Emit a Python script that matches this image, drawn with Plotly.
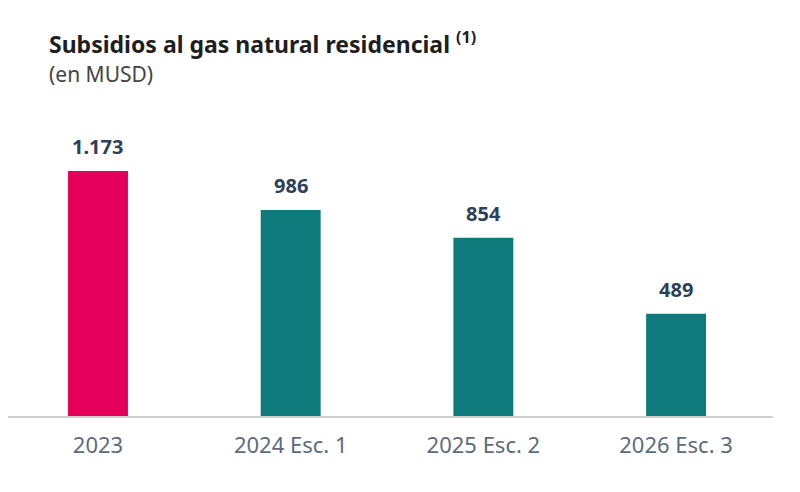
import plotly.graph_objects as go

categories = ["2023", "2024 Esc. 1", "2025 Esc. 2", "2026 Esc. 3"]
values = [1173, 986, 854, 489]
labels = ["1.173", "986", "854", "489"]
colors = ["#E4005B", "#0F7A7B", "#0F7A7B", "#0F7A7B"]

W, H = 784, 476
l, r, t, b = 0, 19, 92, 68
pw, ph = W - l - r, H - t - b

fig = go.Figure()
fig.add_trace(go.Bar(
    x=categories, y=values,
    marker=dict(color=colors, line=dict(width=0)),
    width=0.311, cliponaxis=False, hoverinfo="skip",
))

anns = []
for i, (v, lab) in enumerate(zip(values, labels)):
    anns.append(dict(x=i, y=v, xref="x", yref="y", text=f"<b>{lab}</b>",
                     showarrow=False, yanchor="bottom", yshift=9,
                     font=dict(family="Noto Sans", size=20, color="#2E3F58")))

def px2paper(px, py):
    return (px - l) / pw, (H - b - py) / ph

tx, ty = px2paper(40, 35)
sx, sy = px2paper(40, 66)
anns.append(dict(x=tx, y=ty, xref="paper", yref="paper", showarrow=False,
                 text="<b>Subsidios al gas natural residencial</b> <b><sup>(1)</sup></b>",
                 xanchor="left", yanchor="middle", borderpad=0,
                 font=dict(family="Noto Sans", size=23, color="#1E1E1E")))
anns.append(dict(x=sx, y=sy, xref="paper", yref="paper", showarrow=False,
                 text="(en MUSD)", xanchor="left", yanchor="middle", borderpad=0,
                 font=dict(family="Noto Sans", size=21, color="#444444")))

fig.update_layout(
    width=W, height=H,
    margin=dict(l=l, r=r, t=t, b=b),
    plot_bgcolor="white", paper_bgcolor="white",
    showlegend=False,
    xaxis=dict(range=[-0.467, 3.503], showline=True, linecolor="#D0D0D0", linewidth=2,
               ticks="", ticklabelstandoff=9,
               tickfont=dict(family="Noto Sans", size=22, color="#5E6B7B")),
    yaxis=dict(range=[0, 1513], visible=False, showgrid=False),
    annotations=anns,
)

fig.write_html("out.html")
